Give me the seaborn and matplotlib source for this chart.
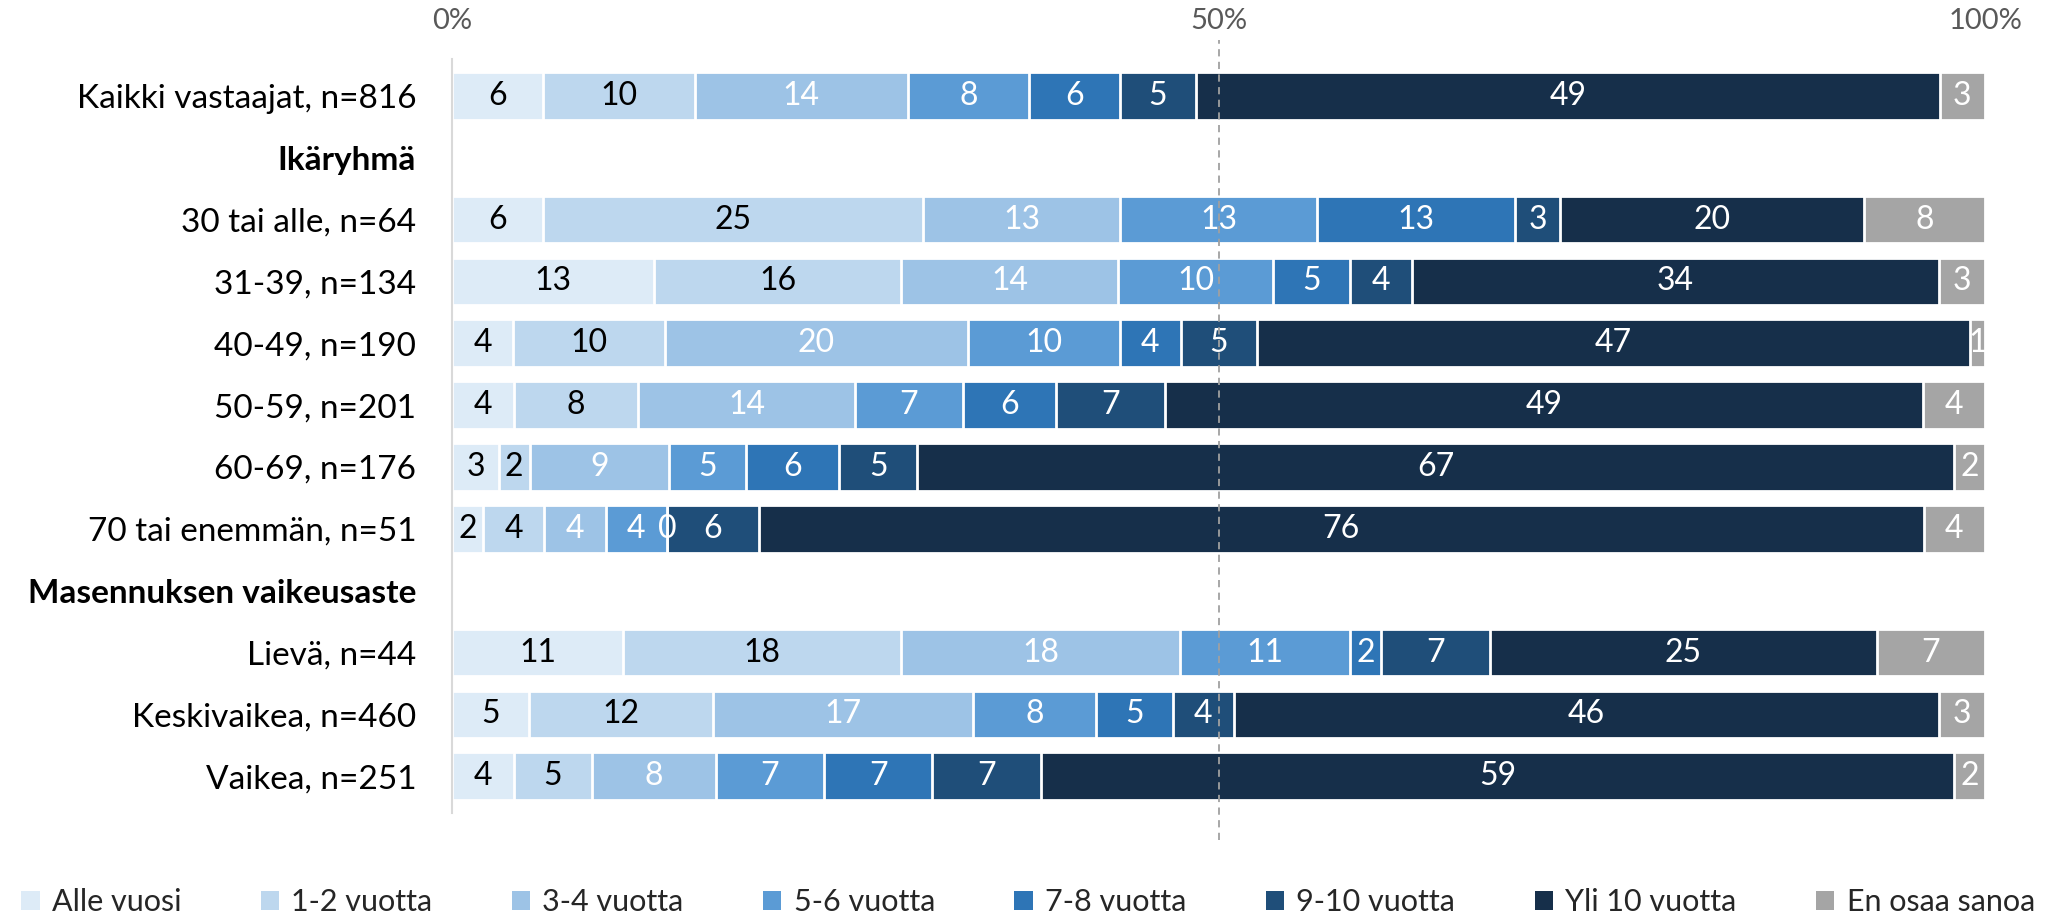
import numpy as np
import pandas as pd
import matplotlib
matplotlib.use("Agg")
import matplotlib.pyplot as plt
from matplotlib.patches import Patch
import seaborn as sns

# categories (legend order)
categories = ["Alle vuosi", "1-2 vuotta", "3-4 vuotta", "5-6 vuotta",
              "7-8 vuotta", "9-10 vuotta", "Yli 10 vuotta", "En osaa sanoa"]
colors = ["#DDEBF7", "#BDD7EE", "#9DC3E6", "#5B9BD5",
          "#2E75B6", "#1F4E79", "#162F4A", "#A5A5A5"]
label_colors = ["black", "black", "white", "white", "white", "white", "white", "white"]

# row labels, headers have no bars
row_order = ["Kaikki vastaajat, n=816", "Ikäryhmä", "30 tai alle, n=64", "31-39, n=134",
             "40-49, n=190", "50-59, n=201", "60-69, n=176", "70 tai enemmän, n=51",
             "Masennuksen vaikeusaste", "Lievä, n=44", "Keskivaikea, n=460", "Vaikea, n=251"]
headers = ["Ikäryhmä", "Masennuksen vaikeusaste"]

kaikki = [6, 10, 14, 8, 6, 5, 49, 3]
age_30 = [6, 25, 13, 13, 13, 3, 20, 8]
age_31_39 = [13, 16, 14, 10, 5, 4, 34, 3]
age_40_49 = [4, 10, 20, 10, 4, 5, 47, 1]
age_50_59 = [4, 8, 14, 7, 6, 7, 49, 4]
age_60_69 = [3, 2, 9, 5, 6, 5, 67, 2]
age_70 = [2, 4, 4, 4, 0, 6, 76, 4]
lieva = [11, 18, 18, 11, 2, 7, 25, 7]
keskivaikea = [5, 12, 17, 8, 5, 4, 46, 3]
vaikea = [4, 5, 8, 7, 7, 7, 59, 2]

values = {
    "Kaikki vastaajat, n=816": kaikki,
    "30 tai alle, n=64": age_30,
    "31-39, n=134": age_31_39,
    "40-49, n=190": age_40_49,
    "50-59, n=201": age_50_59,
    "60-69, n=176": age_60_69,
    "70 tai enemmän, n=51": age_70,
    "Lievä, n=44": lieva,
    "Keskivaikea, n=460": keskivaikea,
    "Vaikea, n=251": vaikea,
}

# long table with cumulative shares (normalised to 100 %)
records = []
for group, vals in values.items():
    v = np.array(vals, dtype=float)
    share = v / v.sum()
    cum = np.cumsum(share)
    for cat, val, s, c in zip(categories, vals, share, cum):
        records.append({"group": group, "cat": cat, "val": val, "share": s, "cum": c})
df = pd.DataFrame(records)

sns.set_theme(style="white")
plt.rcParams["font.family"] = ["Lato", "DejaVu Sans"]

fig = plt.figure(figsize=(20.56, 9.19), dpi=100)
ax = fig.add_axes([0.22, 0.115, 0.7455, 0.821])

# stacked bars: draw cumulative layers from the end backwards
for cat, col in reversed(list(zip(categories, colors))):
    sub = df[df["cat"] == cat]
    sns.barplot(data=sub, x="cum", y="group", order=row_order, color=col,
                saturation=1, width=0.77, edgecolor="white", linewidth=2,
                errorbar=None, ax=ax)

# value labels
for _, r in df.iterrows():
    yi = row_order.index(r["group"])
    ci = categories.index(r["cat"])
    ax.text(r["cum"] - r["share"] / 2, yi, f"{r['val']}", ha="center", va="center",
            fontsize=23, color=label_colors[ci])

ax.axvline(0.5, ymin=-0.035, ymax=1.025, color="#A0A0A0", linestyle=(0, (4, 3)),
           linewidth=1.3, clip_on=False, zorder=5)

ax.set_xlim(0, 1)
ax.set_ylim(len(row_order) - 0.4, -0.6)
ax.xaxis.tick_top()
ax.set_xticks([0, 0.5, 1])
ax.set_xticklabels(["0%", "50%", "100%"])
ax.tick_params(axis="x", length=0, pad=18, labelsize=21, labelcolor="#595959")
ax.tick_params(axis="y", length=0, pad=26, labelsize=24, labelcolor="black")
for lab in ax.get_yticklabels():
    if lab.get_text() in headers:
        lab.set_fontweight("bold")
ax.set_xlabel("")
ax.set_ylabel("")

for side in ["top", "right", "bottom"]:
    ax.spines[side].set_visible(False)
ax.spines["left"].set_color("#D9D9D9")
ax.spines["left"].set_linewidth(1.5)

handles = [Patch(facecolor=c, edgecolor="none", label=l) for l, c in zip(categories, colors)]
fig.legend(handles=handles, loc="lower center", bbox_to_anchor=(0.5, -0.02),
           ncol=8, frameon=False, fontsize=22, columnspacing=2.6,
           handlelength=0.6, handleheight=0.6, handletextpad=0.4, borderaxespad=0.3)

fig.savefig("out.png", dpi=100)
